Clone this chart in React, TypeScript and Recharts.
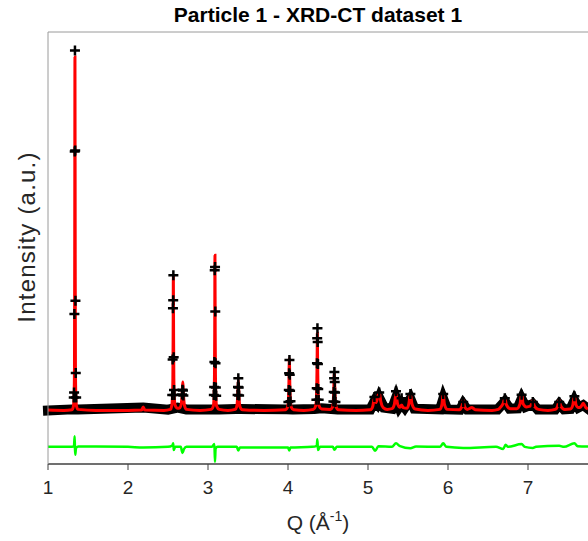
import React from "react";
import { ComposedChart, Line, Scatter, XAxis, YAxis, Label } from "recharts";

const FONT = "'Liberation Sans', Arial, Helvetica, sans-serif";

const X_TICKS = [1, 2, 3, 4, 5, 6, 7];
const DIFF_OFFSET = -10.2;

// calculated profile (red), [Q, intensity]
const CALC: [number, number][] = [
  [1.0, 0.1], [1.2, 0], [1.3, 0.2],
  [1.318, 1.2], [1.326, 4], [1.331, 12], [1.334, 45], [1.337, 99], [1.34, 45], [1.343, 12], [1.348, 4], [1.356, 1.2], [1.375, 0.3],
  [1.6, 0], [2.0, 0], [2.17, 0.1], [2.19, 1], [2.21, 0.1], [2.45, 0], [2.53, 0.3],
  [2.546, 1.2], [2.555, 3.5], [2.561, 9], [2.564, 20], [2.567, 37.6], [2.57, 20], [2.573, 9], [2.579, 3.5], [2.59, 1.4], [2.62, 0.6], [2.65, 0.8],
  [2.665, 1.8], [2.674, 3.5], [2.68, 6], [2.685, 8], [2.69, 6], [2.697, 3.2], [2.708, 1.2], [2.73, 0.3],
  [2.9, 0], [3.04, 0.3], [3.066, 1.2], [3.075, 3.5], [3.081, 10], [3.084, 22], [3.087, 43.5], [3.09, 22], [3.093, 10], [3.099, 3.5], [3.108, 1.2], [3.14, 0.3],
  [3.25, 0], [3.34, 0.3], [3.358, 1], [3.368, 2.8], [3.374, 5.8], [3.379, 8.5], [3.384, 5.8], [3.39, 2.8], [3.4, 1], [3.43, 0.2],
  [3.7, 0], [3.97, 0.2], [3.995, 1], [4.005, 3], [4.011, 7], [4.017, 14.6], [4.023, 7], [4.029, 3], [4.039, 1], [4.07, 0.2],
  [4.2, 0], [4.32, 0.3], [4.345, 1.2], [4.355, 3.5], [4.361, 9], [4.364, 14], [4.367, 21.6], [4.37, 14], [4.373, 9], [4.379, 3.5], [4.389, 1.2], [4.42, 0.4],
  [4.53, 0.3], [4.557, 1], [4.567, 3], [4.573, 6.5], [4.579, 10.4], [4.585, 6.5], [4.591, 3], [4.601, 1], [4.63, 0.2],
  [4.85, 0], [5.03, 0.2], [5.06, 1.2], [5.08, 3.5], [5.1, 2.2], [5.12, 3.5], [5.14, 5.2], [5.16, 2.5], [5.19, 0.8], [5.24, 0.3],
  [5.3, 0.5], [5.33, 1.8], [5.35, 4.6], [5.37, 1.8], [5.4, 0.9], [5.42, 1.5], [5.44, 0.8], [5.49, 0.6], [5.51, 1.8], [5.53, 4.5], [5.55, 1.8], [5.59, 0.4],
  [5.75, 0], [5.9, 0.3], [5.925, 1.8], [5.94, 4.8], [5.955, 1.8], [5.99, 0.3],
  [6.14, 0.2], [6.175, 1.2], [6.19, 2.9], [6.205, 1.2], [6.24, 0.3], [6.3, 0.8], [6.34, 0.2],
  [6.55, 0], [6.63, 0.3], [6.66, 1], [6.69, 2], [6.71, 3.5], [6.73, 1.6], [6.78, 0.5],
  [6.86, 0.5], [6.9, 1.8], [6.92, 4.6], [6.94, 1.8], [6.98, 1], [7.03, 1.2], [7.06, 2.9], [7.08, 1.2], [7.13, 0.3],
  [7.25, 0], [7.34, 0.3], [7.37, 1.2], [7.39, 2.9], [7.41, 1.2], [7.46, 0.3],
  [7.53, 0.4], [7.56, 1.5], [7.58, 4], [7.6, 1.6], [7.63, 0.8], [7.66, 1], [7.69, 2], [7.72, 0.9], [7.75, 0.4],
];

// observed data, dense background part (drawn as the black band)
const OBS_BAND: [number, number][] = [
  [1.0, 0], [1.3, 0.3], [1.375, 0.3], [2.19, 0.8], [2.5, 0.2], [2.62, 0.8], [2.73, 0.3], [3.04, 0.3], [3.14, 0.3],
  [3.35, 0.4], [3.41, 0.4], [3.98, 0.3], [4.06, 0.3], [4.33, 0.4], [4.42, 0.6], [4.54, 0.4], [4.62, 0.3],
  [5.03, 0.3], [5.08, 2.5], [5.11, 1.8], [5.14, 3.5], [5.2, 0.8], [5.3, 0.5], [5.35, 3.5], [5.39, 1], [5.42, 2], [5.46, 0.8],
  [5.53, 3.2], [5.58, 0.5], [5.9, 0.3], [5.94, 3.2], [5.99, 0.3], [6.15, 0.2], [6.19, 1.8], [6.24, 0.3],
  [6.62, 0.3], [6.71, 2.5], [6.77, 0.5], [6.87, 0.6], [6.92, 3.2], [6.97, 1], [7.06, 1.8], [7.12, 0.3],
  [7.34, 0.3], [7.39, 1.8], [7.45, 0.3], [7.53, 0.4], [7.58, 2.8], [7.63, 0.8], [7.69, 1.5], [7.75, 0.5],
];

// observed points on the peaks (+ markers)
const OBS_PEAKS: [number, number][] = [
  [1.322, 3.6], [1.326, 5], [1.33, 27], [1.334, 72.5], [1.337, 100.8], [1.34, 72.8], [1.343, 30.7], [1.347, 10.5], [1.352, 3.6],
  [2.553, 4.3], [2.558, 14.3], [2.562, 28.6], [2.565, 30.9], [2.567, 37.9], [2.571, 14.9], [2.575, 5.7], [2.58, 4.3],
  [2.676, 4.5], [2.681, 5.8], [2.687, 5.6], [2.692, 4.2],
  [3.073, 4.3], [3.077, 6.6], [3.08, 13.6], [3.084, 39.3], [3.088, 40.2], [3.091, 27.7], [3.094, 13.2], [3.098, 6.4], [3.102, 4.1],
  [3.37, 4.3], [3.375, 6.6], [3.379, 9], [3.384, 6.4], [3.389, 4.2],
  [4.005, 2.4], [4.01, 5.7], [4.014, 10.4], [4.018, 14.1], [4.022, 10], [4.026, 5.5], [4.031, 2.6],
  [4.355, 3], [4.359, 6.2], [4.362, 13.2], [4.365, 20.2], [4.368, 23], [4.371, 19.2], [4.374, 13], [4.378, 6], [4.383, 3],
  [4.568, 2.5], [4.572, 5.2], [4.576, 9], [4.58, 10.8], [4.584, 8], [4.588, 5], [4.593, 2.4],
  [5.08, 3.8], [5.14, 5], [5.35, 5.4], [5.42, 3.4], [5.53, 4.6], [5.94, 4.6], [6.19, 2.4],
  [6.71, 3.4], [6.92, 4.4], [7.06, 2.4], [7.39, 2.4], [7.58, 4],
];

// difference obs - calc (green)
const DIFF: [number, number][] = [
  [1.0, 0], [1.3, 0], [1.325, 0.3], [1.333, 3], [1.337, -0.5], [1.341, -2.2], [1.35, -0.3], [1.38, 0.1], [1.6, 0.1], [2.0, 0],
  [2.19, -0.2], [2.5, 0], [2.555, 0.4], [2.565, 1], [2.572, -0.9], [2.59, 0], [2.66, 0], [2.68, -1.7], [2.7, -0.6], [2.73, 0],
  [3.05, 0], [3.08, 0.8], [3.087, -4.2], [3.095, -0.5], [3.12, 0], [3.36, 0], [3.378, -1], [3.4, -0.2], [3.7, -0.2],
  [4.0, -0.2], [4.017, -1], [4.03, -0.2], [4.3, 0], [4.36, 0.3], [4.367, 2.1], [4.375, -0.9], [4.4, 0], [4.56, 0], [4.58, -0.8], [4.61, 0],
  [5.05, 0], [5.09, -1.1], [5.13, 0.2], [5.3, 0], [5.35, 1], [5.4, 0.2], [5.53, -0.4], [5.6, 0.1], [5.9, 0], [5.94, 1], [5.98, 0],
  [6.19, -0.3], [6.6, 0], [6.69, -0.6], [6.72, 0.6], [6.75, 0], [6.92, 0.8], [6.96, 0], [7.06, -0.3], [7.1, 0],
  [7.39, 0.3], [7.45, 0], [7.58, 1], [7.62, 0.2], [7.75, 0.1],
];

const rows = (pts: [number, number][], off = 0) => pts.map(([q, i]) => ({ q, i: i + off }));

const calcRows = rows(CALC);
const bandRows = rows(OBS_BAND);
const peakRows = rows(OBS_PEAKS);
const diffRows = rows(DIFF, DIFF_OFFSET);

function Plus(props: any) {
  const { cx, cy } = props;
  if (cx == null || cy == null) return null;
  return <path d={`M${cx - 5},${cy}h10M${cx},${cy - 5}v10`} stroke="#000" strokeWidth={2.5} fill="none" />;
}

function TitleLabel({ viewBox }: any) {
  return (
    <text x={318} y={viewBox.y + viewBox.height - 10} textAnchor="middle" fontFamily={FONT} fontSize={21} fontWeight="bold" fill="#000">
      Particle 1 - XRD-CT dataset 1
    </text>
  );
}

function XLabel({ viewBox }: any) {
  return (
    <text x={viewBox.x + viewBox.width / 2} y={viewBox.y + 66} textAnchor="middle" fontFamily={FONT} fontSize={21} fill="#262626">
      <tspan>Q (Å</tspan>
      <tspan fontSize={14} dy={-9}>-1</tspan>
      <tspan dy={9}>)</tspan>
    </text>
  );
}

function YLabel({ viewBox }: any) {
  const x = 35;
  const y = viewBox.y + viewBox.height / 2 - 11;
  return (
    <text x={x} y={y} transform={`rotate(-90, ${x}, ${y})`} textAnchor="middle" fontFamily={FONT} fontSize={24} letterSpacing={1.2} fill="#262626">
      Intensity (a.u.)
    </text>
  );
}

export default function App() {
  return (
    <div style={{ position: "absolute", left: 0, top: 0, width: 588, height: 541, background: "#fff" }}>
      <ComposedChart width={588} height={541} margin={{ top: 31, right: 0, bottom: 37, left: 47 }} style={{ fontFamily: FONT }}>
        <XAxis xAxisId="top" orientation="top" type="number" dataKey="q" domain={[1, 7.75]} height={1} ticks={X_TICKS} tick={false} tickLine={false} axisLine={{ stroke: "#9a9a9a" }}>
          <Label content={TitleLabel} />
        </XAxis>
        <XAxis
          dataKey="q"
          type="number"
          domain={[1, 7.75]}
          ticks={X_TICKS}
          height={40}
          tickSize={6}
          tickMargin={11}
          axisLine={{ stroke: "#404040", strokeWidth: 1.5 }}
          tickLine={{ stroke: "#404040" }}
          tick={{ fill: "#262626", fontSize: 19, fontFamily: FONT }}
        >
          <Label content={XLabel} />
        </XAxis>
        <YAxis dataKey="i" type="number" domain={[-15, 106]} width={1} ticks={[0]} tick={false} tickLine={false} axisLine={{ stroke: "#9a9a9a" }}>
          <Label content={YLabel} />
        </YAxis>
        <Line data={bandRows} dataKey="i" type="linear" stroke="#000" strokeWidth={10} strokeLinecap="square" dot={false} activeDot={false} isAnimationActive={false} />
        <Scatter data={peakRows} dataKey="i" shape={Plus} isAnimationActive={false} />
        <Line data={calcRows} dataKey="i" type="monotone" stroke="#ff0000" strokeWidth={3} dot={false} activeDot={false} isAnimationActive={false} />
        <Line data={diffRows} dataKey="i" type="monotone" stroke="#00ff00" strokeWidth={2.5} dot={false} activeDot={false} isAnimationActive={false} />
      </ComposedChart>
    </div>
  );
}
